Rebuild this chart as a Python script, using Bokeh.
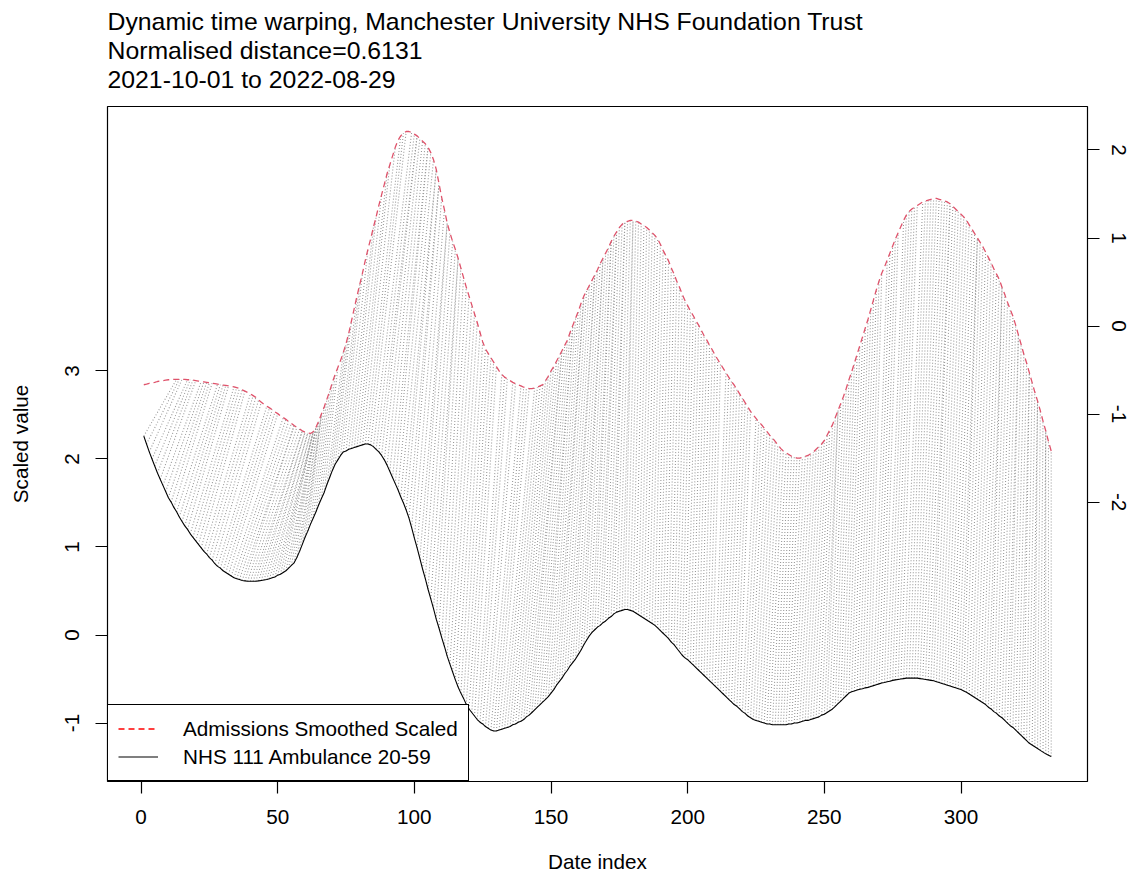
import numpy as np
from bokeh.plotting import figure
from bokeh.models import Range1d, LinearAxis, FixedTicker, Legend, LegendItem, Title
from bokeh.embed import file_html
from bokeh.resources import INLINE

# ---------------- data ----------------
title_lines = [
    "Dynamic time warping, Manchester University NHS Foundation Trust",
    "Normalised distance=0.6131",
    "2021-10-01 to 2022-08-29",
]
x_label = "Date index"
y_label = "Scaled value"
series_names = ["Admissions Smoothed Scaled", "NHS 111 Ambulance 20-59"]
x_ticks = [0, 50, 100, 150, 200, 250, 300]
left_ticks = [-1, 0, 1, 2, 3]
right_ticks = [-2, -1, 0, 1, 2]
offset = 3.51  # vertical offset applied to the admissions series (right axis)

# NHS 111 Ambulance 20-59 (query, black, left axis), date index 1..333
nhs111 = [
    2.26, 2.17, 2.08, 2.00, 1.92, 1.84, 1.77, 1.70, 1.63, 1.56,
    1.51, 1.45, 1.40, 1.34, 1.29, 1.24, 1.20, 1.15, 1.11, 1.07,
    1.03, 0.99, 0.95, 0.92, 0.88, 0.85, 0.81, 0.78, 0.76, 0.73,
    0.71, 0.69, 0.67, 0.65, 0.64, 0.63, 0.62, 0.615, 0.61, 0.61,
    0.61, 0.61, 0.615, 0.62, 0.625, 0.63, 0.64, 0.65, 0.66, 0.68,
    0.69, 0.71, 0.73, 0.76, 0.79, 0.82, 0.88, 0.95, 1.03, 1.11,
    1.18, 1.26, 1.33, 1.40, 1.48, 1.55, 1.62, 1.71, 1.79, 1.87,
    1.94, 1.99, 2.04, 2.08, 2.09, 2.11, 2.12, 2.13, 2.14, 2.15,
    2.16, 2.17, 2.17, 2.16, 2.14, 2.11, 2.08, 2.04, 1.99, 1.93,
    1.86, 1.79, 1.72, 1.65, 1.57, 1.50, 1.42, 1.33, 1.22, 1.10,
    0.99, 0.87, 0.75, 0.64, 0.52, 0.41, 0.30, 0.18, 0.08, -0.03,
    -0.13, -0.24, -0.33, -0.42, -0.51, -0.59, -0.66, -0.72, -0.79, -0.84,
    -0.88, -0.92, -0.96, -0.99, -1.01, -1.04, -1.06, -1.08, -1.09, -1.09,
    -1.08, -1.07, -1.06, -1.05, -1.04, -1.02, -1.01, -0.99, -0.98, -0.96,
    -0.93, -0.91, -0.88, -0.85, -0.82, -0.79, -0.76, -0.73, -0.70, -0.66,
    -0.62, -0.57, -0.53, -0.49, -0.44, -0.40, -0.35, -0.31, -0.27, -0.22,
    -0.17, -0.11, -0.06, -0.01, 0.03, 0.06, 0.09, 0.11, 0.14, 0.16,
    0.19, 0.21, 0.24, 0.26, 0.27, 0.28, 0.29, 0.29, 0.28, 0.27,
    0.25, 0.23, 0.21, 0.19, 0.17, 0.15, 0.13, 0.11, 0.08, 0.05,
    0.02, -0.01, -0.04, -0.08, -0.11, -0.15, -0.19, -0.23, -0.26, -0.28,
    -0.31, -0.34, -0.37, -0.40, -0.43, -0.46, -0.49, -0.52, -0.55, -0.58,
    -0.61, -0.64, -0.67, -0.70, -0.73, -0.76, -0.79, -0.81, -0.84, -0.87,
    -0.89, -0.92, -0.94, -0.96, -0.97, -0.98, -0.99, -1.00, -1.01, -1.01,
    -1.02, -1.02, -1.02, -1.02, -1.02, -1.02, -1.01, -1.01, -1.00, -1.00,
    -0.99, -0.98, -0.97, -0.97, -0.96, -0.95, -0.94, -0.93, -0.91, -0.90,
    -0.88, -0.86, -0.84, -0.81, -0.78, -0.75, -0.72, -0.69, -0.66, -0.645,
    -0.635, -0.625, -0.615, -0.61, -0.60, -0.595, -0.585, -0.575, -0.565, -0.555,
    -0.545, -0.54, -0.53, -0.525, -0.515, -0.51, -0.505, -0.50, -0.495, -0.49,
    -0.49, -0.49, -0.49, -0.49, -0.495, -0.50, -0.505, -0.51, -0.515, -0.52,
    -0.53, -0.54, -0.55, -0.56, -0.57, -0.58, -0.59, -0.60, -0.61, -0.62,
    -0.635, -0.65, -0.67, -0.69, -0.71, -0.73, -0.75, -0.77, -0.79, -0.82,
    -0.84, -0.87, -0.89, -0.92, -0.94, -0.97, -1.00, -1.03, -1.05, -1.08,
    -1.11, -1.14, -1.17, -1.20, -1.23, -1.25, -1.27, -1.29, -1.31, -1.33,
    -1.35, -1.365, -1.38,
]

# Admissions Smoothed Scaled (reference, red dashed, right axis), date index 1..333
admissions = [
    -0.667, -0.66, -0.65, -0.645, -0.64, -0.63, -0.625, -0.62, -0.615, -0.61,
    -0.61, -0.605, -0.605, -0.605, -0.605, -0.605, -0.61, -0.61, -0.615, -0.62,
    -0.625, -0.63, -0.635, -0.64, -0.645, -0.65, -0.655, -0.66, -0.665, -0.67,
    -0.675, -0.68, -0.685, -0.69, -0.70, -0.71, -0.725, -0.74, -0.755, -0.77,
    -0.79, -0.81, -0.84, -0.865, -0.89, -0.91, -0.93, -0.95, -0.975, -0.995,
    -1.02, -1.04, -1.06, -1.085, -1.105, -1.13, -1.15, -1.17, -1.19, -1.205,
    -1.215, -1.22, -1.20, -1.15, -1.08, -1.00, -0.92, -0.83, -0.74, -0.64,
    -0.55, -0.47, -0.39, -0.30, -0.20, -0.08, 0.06, 0.20, 0.34, 0.47,
    0.60, 0.74, 0.87, 0.99, 1.12, 1.24, 1.37, 1.49, 1.61, 1.73,
    1.83, 1.93, 2.03, 2.11, 2.16, 2.19, 2.21, 2.21, 2.20, 2.18,
    2.16, 2.13, 2.10, 2.07, 2.03, 1.97, 1.89, 1.78, 1.62, 1.46,
    1.32, 1.17, 1.06, 0.96, 0.87, 0.77, 0.66, 0.55, 0.44, 0.34,
    0.24, 0.14, 0.04, -0.07, -0.18, -0.26, -0.31, -0.36, -0.41, -0.46,
    -0.51, -0.55, -0.58, -0.60, -0.62, -0.64, -0.655, -0.67, -0.68, -0.695,
    -0.705, -0.71, -0.71, -0.705, -0.695, -0.68, -0.665, -0.62, -0.57, -0.51,
    -0.46, -0.40, -0.34, -0.28, -0.22, -0.16, -0.07, 0.01, 0.09, 0.17,
    0.26, 0.34, 0.40, 0.46, 0.52, 0.58, 0.64, 0.71, 0.77, 0.83,
    0.89, 0.96, 1.02, 1.07, 1.12, 1.155, 1.18, 1.19, 1.20, 1.20,
    1.19, 1.18, 1.16, 1.14, 1.12, 1.09, 1.06, 1.03, 0.99, 0.93,
    0.86, 0.80, 0.74, 0.66, 0.59, 0.51, 0.44, 0.36, 0.29, 0.23,
    0.17, 0.12, 0.06, 0.01, -0.05, -0.11, -0.16, -0.22, -0.27, -0.33,
    -0.38, -0.43, -0.48, -0.53, -0.58, -0.63, -0.67, -0.72, -0.77, -0.82,
    -0.87, -0.92, -0.97, -1.01, -1.05, -1.09, -1.12, -1.16, -1.20, -1.24,
    -1.27, -1.31, -1.35, -1.39, -1.42, -1.44, -1.46, -1.48, -1.49, -1.50,
    -1.50, -1.49, -1.48, -1.47, -1.45, -1.43, -1.40, -1.37, -1.34, -1.30,
    -1.24, -1.18, -1.12, -1.04, -0.96, -0.88, -0.80, -0.71, -0.61, -0.52,
    -0.42, -0.32, -0.22, -0.12, -0.02, 0.08, 0.19, 0.30, 0.41, 0.51,
    0.60, 0.67, 0.75, 0.83, 0.91, 0.99, 1.06, 1.13, 1.20, 1.26,
    1.30, 1.33, 1.35, 1.37, 1.39, 1.41, 1.42, 1.43, 1.44, 1.45,
    1.45, 1.44, 1.43, 1.42, 1.41, 1.39, 1.36, 1.33, 1.30, 1.27,
    1.24, 1.20, 1.15, 1.10, 1.05, 1.00, 0.95, 0.90, 0.84, 0.78,
    0.72, 0.65, 0.59, 0.53, 0.44, 0.36, 0.27, 0.19, 0.11, 0.01,
    -0.10, -0.21, -0.32, -0.42, -0.53, -0.64, -0.75, -0.85, -0.96, -1.08,
    -1.19, -1.31, -1.42,
]

# DTW alignment: admissions index matched to each NHS 111 index 1..333
matched_index = [
    13, 14, 15, 17, 18, 19, 20, 22, 23, 24,
    25, 26, 28, 29, 30, 31, 32, 34, 35, 36,
    37, 38, 40, 41, 42, 43, 44, 46, 47, 48,
    49, 50, 52, 53, 54, 55, 56, 56, 57, 58,
    59, 59, 60, 60, 61, 61, 62, 62, 63, 63,
    63, 63, 64, 64, 64, 64, 65, 65, 66, 66,
    66, 67, 68, 69, 70, 71, 72, 74, 75, 76,
    77, 79, 80, 81, 83, 85, 86, 88, 90, 91,
    93, 95, 96, 97, 99, 100, 101, 101, 102, 103,
    104, 105, 105, 106, 107, 108, 108, 109, 109, 110,
    111, 112, 112, 113, 114, 115, 116, 116, 117, 118,
    119, 120, 121, 122, 123, 124, 125, 126, 127, 128,
    129, 130, 132, 133, 134, 136, 137, 139, 140, 141,
    142, 144, 145, 146, 147, 148, 149, 150, 151, 152,
    153, 154, 154, 155, 156, 157, 158, 158, 159, 160,
    161, 162, 162, 163, 164, 165, 166, 166, 167, 168,
    169, 169, 170, 171, 172, 172, 173, 174, 174, 175,
    176, 177, 177, 178, 179, 180, 180, 181, 182, 183,
    184, 185, 186, 187, 188, 189, 190, 191, 192, 193,
    194, 195, 196, 197, 198, 199, 200, 201, 202, 203,
    204, 205, 206, 207, 208, 209, 210, 211, 212, 214,
    215, 216, 217, 218, 219, 220, 221, 222, 223, 225,
    226, 227, 228, 229, 230, 231, 232, 233, 234, 235,
    236, 237, 238, 239, 240, 241, 242, 243, 244, 245,
    246, 247, 248, 249, 250, 251, 252, 253, 254, 255,
    255, 256, 257, 258, 259, 260, 261, 262, 263, 264,
    265, 266, 267, 268, 269, 270, 271, 273, 274, 275,
    276, 277, 279, 280, 281, 282, 283, 284, 286, 287,
    288, 289, 290, 291, 292, 293, 294, 295, 296, 296,
    297, 298, 299, 300, 301, 302, 303, 304, 305, 306,
    306, 307, 308, 309, 310, 311, 312, 313, 314, 315,
    315, 316, 317, 318, 319, 320, 321, 321, 322, 323,
    324, 325, 325, 326, 327, 328, 328, 329, 330, 331,
    331, 332, 333,
]

# ---------------- derived arrays ----------------
q = np.asarray(nhs111, dtype=float)
r = np.asarray(admissions, dtype=float)
qx = np.arange(1, len(q) + 1)
rx = np.arange(1, len(r) + 1)
m = np.clip(np.asarray(matched_index, dtype=int), 1, len(r))
nm = min(len(m), len(q))

# R-style ranges (4% extension)
xlo, xhi = 1, max(len(q), len(r))
xpad = 0.04 * (xhi - xlo)
yall = np.concatenate([q, r + offset])
ylo, yhi = yall.min(), yall.max()
ypad = 0.04 * (yhi - ylo)

FONT = "Liberation Sans"
BASE = "20.7px"
MAIN = "24.8px"

W, H = 1135, 879
ML, MR, MT, MB = 107, 48, 106, 98

p = figure(width=W, height=H, output_backend="svg", toolbar_location=None,
           title=None, x_axis_type=None, y_axis_type=None,
           x_range=Range1d(xlo - xpad, xhi + xpad),
           y_range=Range1d(ylo - ypad, yhi + ypad),
           min_border_left=ML, min_border_right=MR,
           min_border_top=MT, min_border_bottom=MB)
p.extra_y_ranges = {"right": Range1d(ylo - ypad - offset, yhi + ypad - offset)}
p.background_fill_color = "white"
p.border_fill_color = "white"
p.outline_line_color = "black"
p.outline_line_width = 1.2


def style_axis(ax, standoff):
    ax.axis_line_color = None
    ax.major_tick_in = 0
    ax.major_tick_out = 12
    ax.major_tick_line_color = "black"
    ax.major_tick_line_width = 1.2
    ax.minor_tick_line_color = None
    ax.major_label_text_font = FONT
    ax.major_label_text_font_size = BASE
    ax.major_label_text_color = "black"
    ax.major_label_standoff = standoff
    ax.axis_label_text_font = FONT
    ax.axis_label_text_font_size = BASE
    ax.axis_label_text_font_style = "normal"
    ax.axis_label_text_color = "black"


xaxis = LinearAxis(ticker=FixedTicker(ticks=x_ticks), axis_label=x_label)
style_axis(xaxis, 16)
xaxis.axis_label_standoff = 23
p.add_layout(xaxis, "below")

laxis = LinearAxis(ticker=FixedTicker(ticks=left_ticks), axis_label=y_label)
style_axis(laxis, 16)
laxis.axis_label_standoff = 31
laxis.major_label_orientation = "vertical"
laxis.major_label_overrides = {t: str(t) for t in left_ticks}
p.add_layout(laxis, "left")

raxis = LinearAxis(y_range_name="right", ticker=FixedTicker(ticks=right_ticks))
style_axis(raxis, 12)
raxis.major_label_orientation = "vertical"
raxis.major_label_overrides = {t: str(t) for t in right_ticks}
p.add_layout(raxis, "right")

# title block: spacer nearest the frame, then the three lines (innermost first)
p.add_layout(Title(text=" ", text_font_size="1px", standoff=11), "above")
for line in reversed(title_lines):
    p.add_layout(Title(text=line, align="left", text_font=FONT, text_font_size=MAIN,
                       text_font_style="normal", text_color="black", standoff=0), "above")

# matching lines (DTW alignment)
p.segment(x0=qx[:nm], y0=q[:nm], x1=m[:nm], y1=r[m[:nm] - 1] + offset,
          line_color="#9a9a9a", line_width=1.1, line_dash="1 2")

# the two series
p.line(rx, r + offset, line_color="#DF536B", line_width=1.3, line_dash="6 4")
p.line(qx, q, line_color="black", line_width=1.1)

# legend samples (drawn outside the visible range; only shown in the legend)
far = xlo - 100 * xhi
leg_red = p.line(x=[far, far + 1], y=[0, 0], line_color="red", line_width=1.3, line_dash="6 4")
leg_blk = p.line(x=[far, far + 1], y=[0, 0], line_color="black", line_width=1.1)
legend = Legend(items=[LegendItem(label=series_names[0], renderers=[leg_red]),
                       LegendItem(label=series_names[1], renderers=[leg_blk])],
                location="bottom_left", margin=0, padding=10, spacing=1,
                glyph_width=40, glyph_height=27, label_height=27, label_standoff=25,
                label_text_font=FONT, label_text_font_size=BASE, label_text_color="black",
                border_line_color="black", border_line_width=1.2, border_line_alpha=1.0,
                background_fill_color="white", background_fill_alpha=1.0)
p.add_layout(legend)

open("out.html", "w").write(file_html(p, INLINE))
